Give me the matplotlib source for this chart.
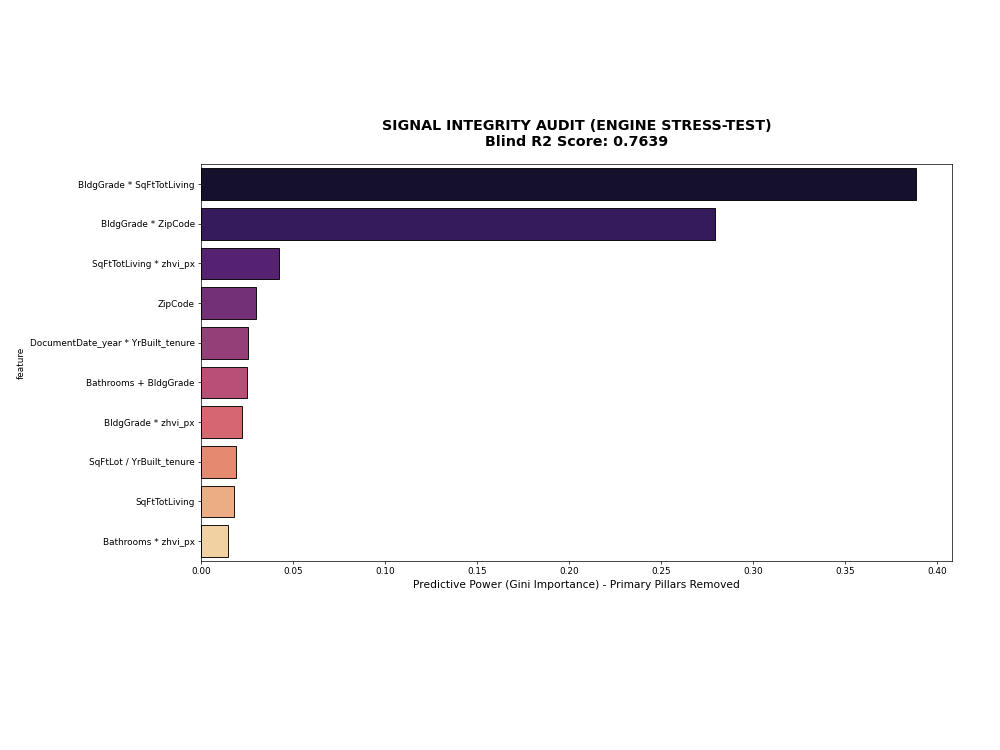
import matplotlib
matplotlib.use("Agg")
import matplotlib.pyplot as plt
import seaborn as sns
import pandas as pd

# feature importances
features = [
    "BldgGrade * SqFtTotLiving",
    "BldgGrade * ZipCode",
    "SqFtTotLiving * zhvi_px",
    "ZipCode",
    "DocumentDate_year * YrBuilt_tenure",
    "Bathrooms + BldgGrade",
    "BldgGrade * zhvi_px",
    "SqFtLot / YrBuilt_tenure",
    "SqFtTotLiving",
    "Bathrooms * zhvi_px",
]
importance = [0.3886, 0.2793, 0.0424, 0.0299, 0.0256, 0.0250, 0.0223, 0.0190, 0.0177, 0.0148]

df = pd.DataFrame({"feature": features, "importance": importance})

# original looks like a bigger figure scaled down, so everything is ~0.64x
k = 0.64

fig = plt.figure(figsize=(10, 7.5), dpi=100)
ax = fig.add_axes([0.201, 0.252, 0.751, 0.529])

sns.barplot(data=df, x="importance", y="feature", hue="feature",
            palette="magma", edgecolor="black", linewidth=1.0 * k,
            legend=False, ax=ax)

ax.set_title("SIGNAL INTEGRITY AUDIT (ENGINE STRESS-TEST)\nBlind R2 Score: 0.7639",
             fontsize=16 * k, fontweight="bold", pad=20 * k)
ax.set_xlabel("Predictive Power (Gini Importance) - Primary Pillars Removed",
              fontsize=12 * k, labelpad=4 * k)
ax.set_ylabel("feature", fontsize=10 * k, labelpad=4 * k)
ax.tick_params(labelsize=10 * k, length=3.5 * k, width=0.8 * k, pad=3.5 * k)
for s in ax.spines.values():
    s.set_linewidth(0.8 * k)

plt.savefig("out.png", dpi=100)
